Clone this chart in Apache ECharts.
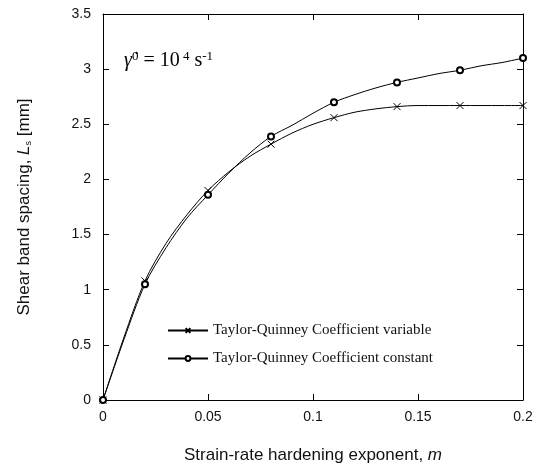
<!DOCTYPE html>
<html><head><meta charset="utf-8">
<script src="https://cdn.jsdelivr.net/npm/echarts@6/dist/echarts.min.js"></script>
<style>html,body{margin:0;padding:0;background:#fff}#c{width:536px;height:474px}</style>
</head><body><div id="c"></div>
<script>
// m values
const mVals = [0,0.01,0.02,0.03,0.04,0.05,0.06,0.07,0.08,0.09,0.10,0.11,0.12,0.13,0.14,0.15,0.16,0.17,0.18,0.19,0.20];
const variableLs = [0,0.57,1.08,1.42,1.68,1.90,2.07,2.21,2.32,2.42,2.50,2.56,2.61,2.64,2.66,2.67,2.67,2.67,2.67,2.67,2.67];
const constantLs = [0,0.55,1.05,1.38,1.65,1.86,2.06,2.24,2.39,2.49,2.60,2.70,2.77,2.83,2.88,2.92,2.96,2.99,3.03,3.06,3.10];
// m values where markers are drawn
const markerM = [0,0.02,0.05,0.08,0.11,0.14,0.17,0.20];
const seriesNames = ['Taylor-Quinney Coefficient variable','Taylor-Quinney Coefficient constant'];

function build(vals){
  return mVals.map((m,i)=>{
    const isMark = markerM.some(k=>Math.abs(k-m)<1e-9);
    return isMark ? {value:[m,vals[i]]} : {value:[m,vals[i]], symbol:'none'};
  });
}
const chart = echarts.init(document.getElementById('c'));
const serif = '"Liberation Serif","DejaVu Serif",serif';
const sans = '"Liberation Sans",Arial,sans-serif';
const txt = '#111';
const tick = {show:true,inside:true,length:6,lineStyle:{color:'#000'}};
const line = {show:true,onZero:false,lineStyle:{color:'#000',width:1}};
chart.setOption({
  animation:false,
  grid:{left:103,right:13,top:14,bottom:74},
  legend:{
    orient:'vertical', left:162, top:318, itemGap:13, itemWidth:40, itemHeight:6,
    textStyle:{fontFamily:serif,fontSize:15,color:txt},
    data:seriesNames
  },
  xAxis:[{
    type:'value',min:0,max:0.2,interval:0.05,
    axisLine:line, axisTick:tick,
    splitLine:{show:false},
    axisLabel:{fontFamily:sans,fontSize:14,color:txt,margin:10,
      formatter:v=>String(+v.toFixed(2))},
    name:'{a|Strain-rate hardening exponent, }{b|m}',nameLocation:'middle',nameGap:47,
    nameTextStyle:{rich:{a:{fontFamily:sans,fontSize:17,color:txt},b:{fontFamily:sans,fontSize:17,fontStyle:'italic',color:txt}}}
  },{
    type:'value',min:0,max:0.2,interval:0.05,position:'top',
    axisLine:line, axisTick:tick,
    axisLabel:{show:false},splitLine:{show:false}
  }],
  yAxis:[{
    type:'value',min:0,max:3.5,interval:0.5,
    axisLine:line, axisTick:tick,
    splitLine:{show:false},
    axisLabel:{fontFamily:sans,fontSize:14,color:txt,margin:12},
    name:'{a|Shear band spacing, }{b|L}{s|s}{a| [mm]}',nameLocation:'middle',nameGap:70,nameRotate:90,
    nameTextStyle:{rich:{
      a:{fontFamily:sans,fontSize:17,color:txt},
      b:{fontFamily:sans,fontSize:17,fontStyle:'italic',color:txt},
      s:{fontFamily:sans,fontSize:9,color:txt,verticalAlign:'bottom',padding:[8,0,0,0]}}}
  },{
    type:'value',min:0,max:3.5,interval:0.5,position:'right',
    axisLine:line, axisTick:tick,
    axisLabel:{show:false},splitLine:{show:false}
  }],
  series:[{
    name:seriesNames[0],type:'line',data:build(variableLs),smooth:0.3,
    symbol:'path://M0,0L10,10M10,0L0,10',symbolSize:7,showAllSymbol:true,
    lineStyle:{color:'#000',width:1},
    itemStyle:{color:'none',borderColor:'#000',borderWidth:1}
  },{
    name:seriesNames[1],type:'line',data:build(constantLs),smooth:0.3,
    symbol:'emptyCircle',symbolSize:6,showAllSymbol:true,
    lineStyle:{color:'#000',width:1},
    itemStyle:{color:'#000',borderColor:'#000',borderWidth:1}
  }],
  graphic:[{
    type:'text',left:124,top:50,
    style:{rich:{
      g:{fontFamily:serif,fontSize:20,fontStyle:'italic',fill:'#000'},
      p:{fontFamily:serif,fontSize:13,fill:'#000',verticalAlign:'top',padding:[0,0,9,0]},
      n:{fontFamily:serif,fontSize:20,fill:'#000'}
    },text:'{g|γ̇}{p|0}{n| = 10}{p| 4}{n| s}{p|-1}'}
  }]
});
</script></body></html>
